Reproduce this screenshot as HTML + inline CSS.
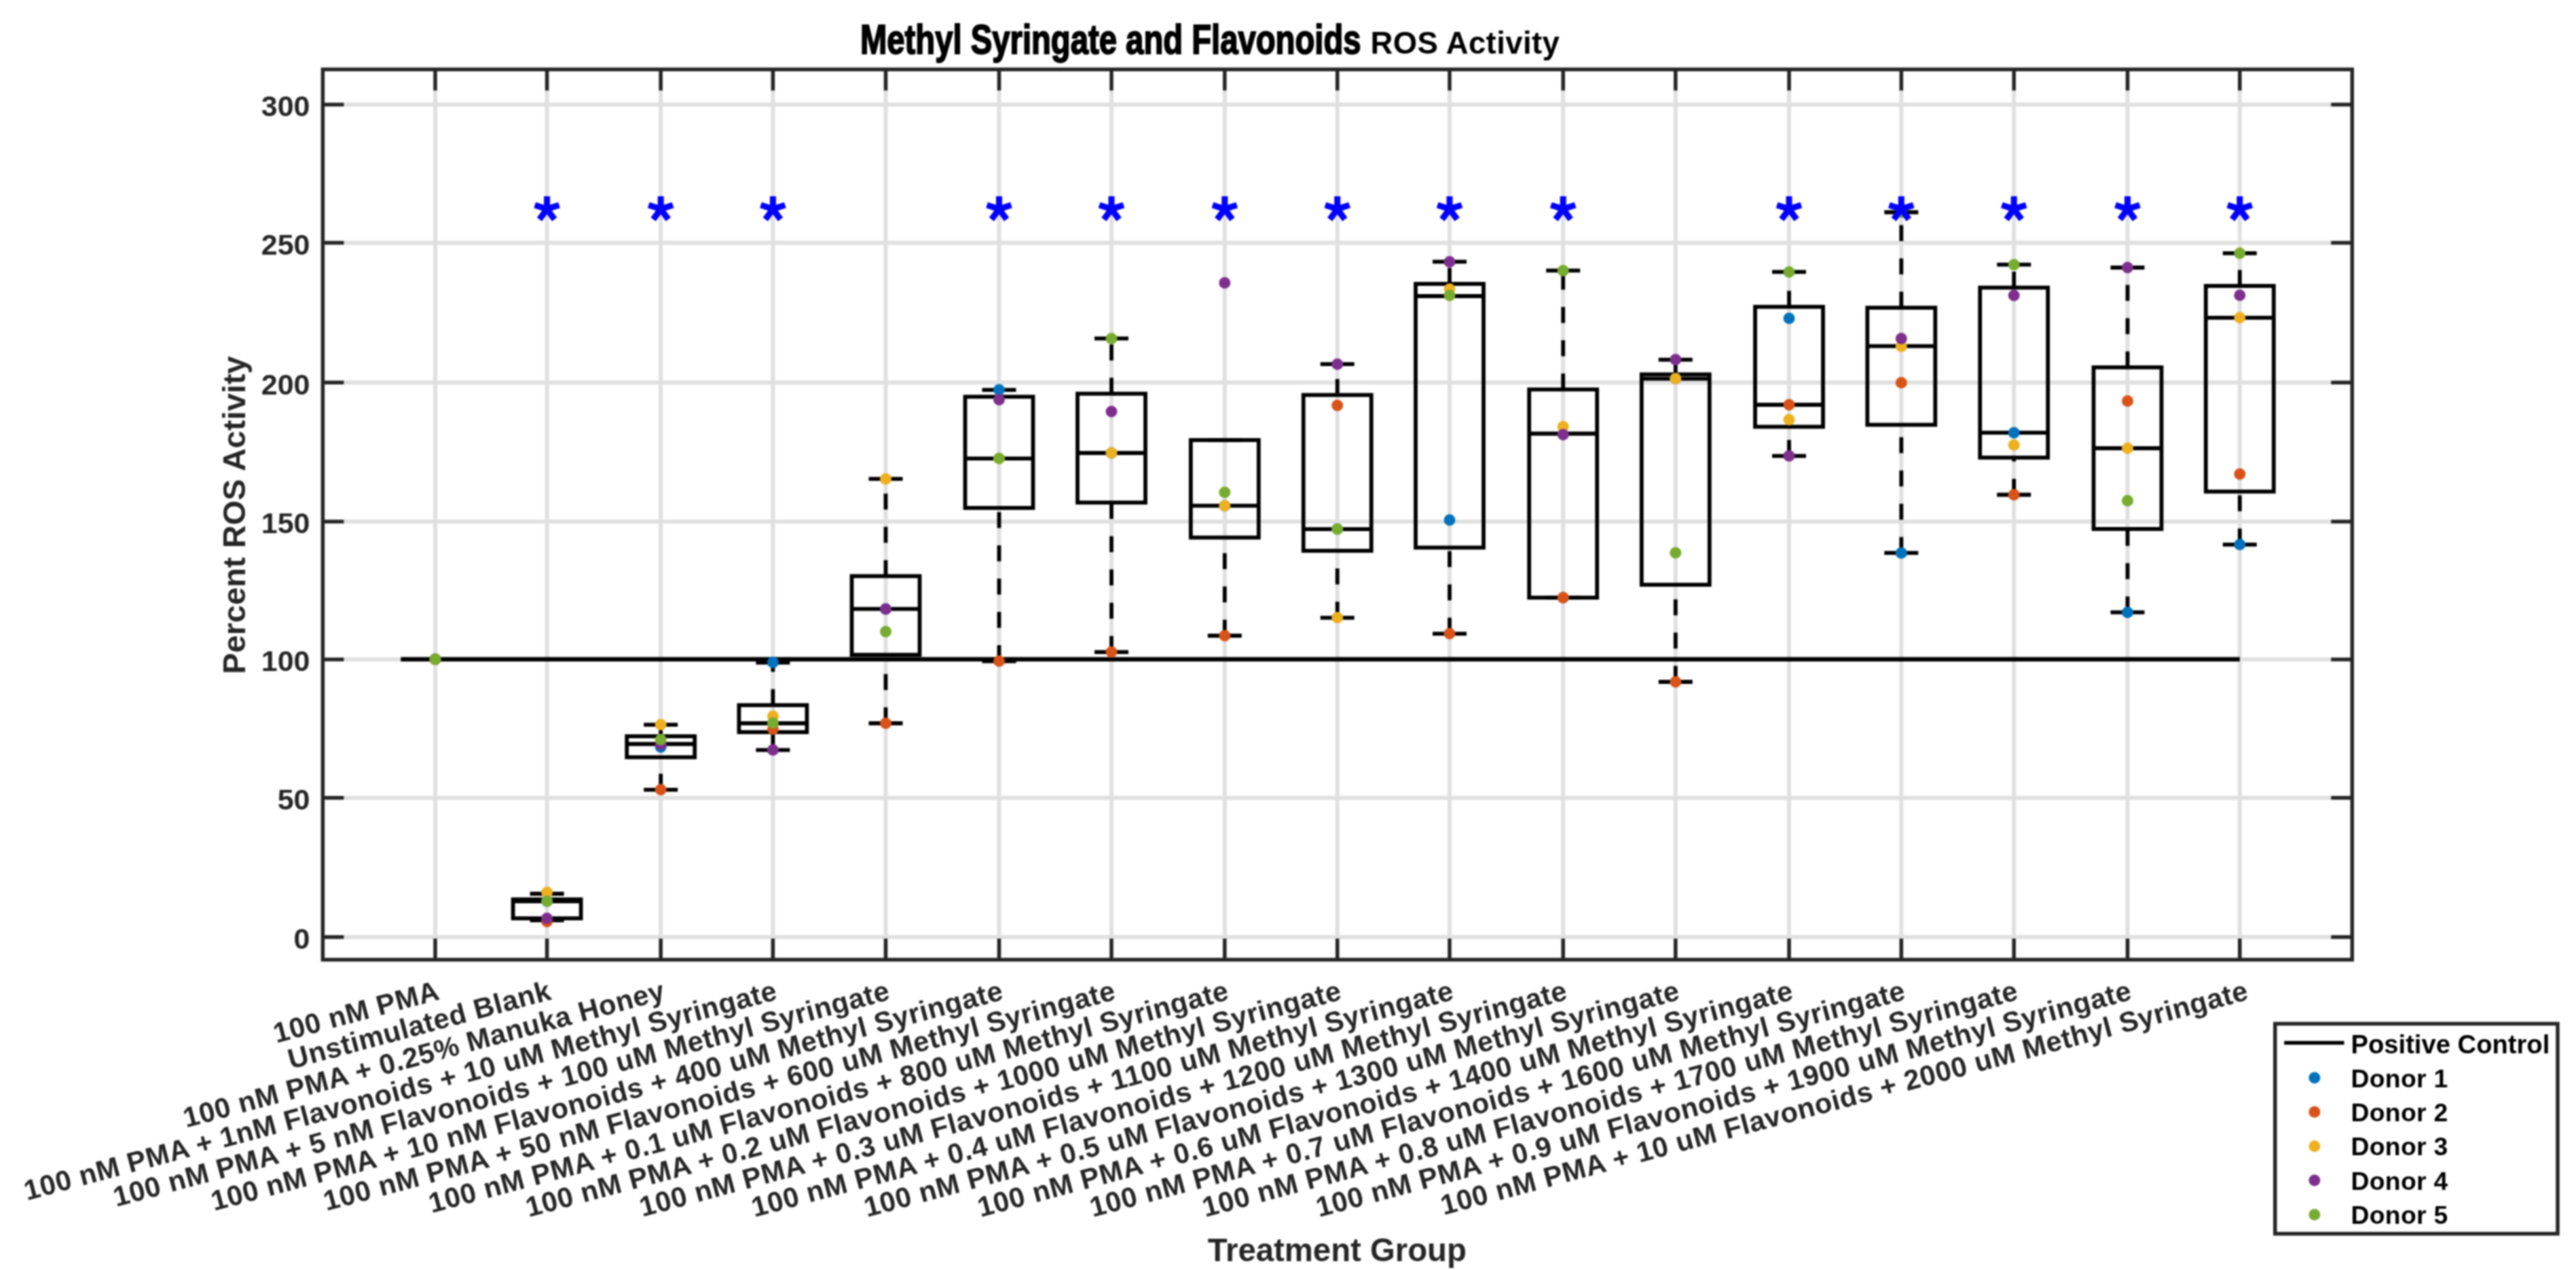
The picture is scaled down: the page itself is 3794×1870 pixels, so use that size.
<!DOCTYPE html><html><head><meta charset="utf-8"><style>html,body{margin:0;padding:0;background:#fff;width:3794px;height:1870px;overflow:hidden}svg{display:block;filter:blur(0.9px)}text{font-family:"Liberation Sans",sans-serif;font-weight:bold}</style></head><body>
<svg width="3794" height="1870" viewBox="0 0 3794 1870">
<rect width="3794" height="1870" fill="#fff"/>
<path d="M475.4 1379.8H3464.3M475.4 1174.8H3464.3M475.4 971.0H3464.3M475.4 768.0H3464.3M475.4 563.3H3464.3M475.4 357.5H3464.3M475.4 153.9H3464.3M641.0 102.2V1413.1M805.6 102.2V1413.1M973.2 102.2V1413.1M1138.4 102.2V1413.1M1304.5 102.2V1413.1M1471.5 102.2V1413.1M1637.0 102.2V1413.1M1803.8 102.2V1413.1M1969.7 102.2V1413.1M2135.0 102.2V1413.1M2302.2 102.2V1413.1M2467.8 102.2V1413.1M2635.0 102.2V1413.1M2800.3 102.2V1413.1M2966.2 102.2V1413.1M3133.5 102.2V1413.1M3298.8 102.2V1413.1" stroke="#e0e0e0" stroke-width="6" fill="none"/>
<path d="M475.4 1379.8h31M3464.3 1379.8h-31M475.4 1174.8h31M3464.3 1174.8h-31M475.4 971.0h31M3464.3 971.0h-31M475.4 768.0h31M3464.3 768.0h-31M475.4 563.3h31M3464.3 563.3h-31M475.4 357.5h31M3464.3 357.5h-31M475.4 153.9h31M3464.3 153.9h-31M641.0 1413.1v-31M641.0 102.2v31M805.6 1413.1v-31M805.6 102.2v31M973.2 1413.1v-31M973.2 102.2v31M1138.4 1413.1v-31M1138.4 102.2v31M1304.5 1413.1v-31M1304.5 102.2v31M1471.5 1413.1v-31M1471.5 102.2v31M1637.0 1413.1v-31M1637.0 102.2v31M1803.8 1413.1v-31M1803.8 102.2v31M1969.7 1413.1v-31M1969.7 102.2v31M2135.0 1413.1v-31M2135.0 102.2v31M2302.2 1413.1v-31M2302.2 102.2v31M2467.8 1413.1v-31M2467.8 102.2v31M2635.0 1413.1v-31M2635.0 102.2v31M2800.3 1413.1v-31M2800.3 102.2v31M2966.2 1413.1v-31M2966.2 102.2v31M3133.5 1413.1v-31M3133.5 102.2v31M3298.8 1413.1v-31M3298.8 102.2v31" stroke="#262626" stroke-width="5.5" fill="none"/>
<rect x="475.4" y="102.2" width="2988.9" height="1310.9" stroke="#262626" stroke-width="5.5" fill="none"/>
<text x="456.5" y="1397.1" font-size="43" fill="#262626" text-anchor="end">0</text>
<text x="456.5" y="1192.1" font-size="43" fill="#262626" text-anchor="end">50</text>
<text x="456.5" y="988.3" font-size="43" fill="#262626" text-anchor="end">100</text>
<text x="456.5" y="785.3" font-size="43" fill="#262626" text-anchor="end">150</text>
<text x="456.5" y="580.6" font-size="43" fill="#262626" text-anchor="end">200</text>
<text x="456.5" y="374.8" font-size="43" fill="#262626" text-anchor="end">250</text>
<text x="456.5" y="171.2" font-size="43" fill="#262626" text-anchor="end">300</text>
<path d="M590.3 970.8H3298.8" stroke="#000" stroke-width="6.5" fill="none"/>
<path d="M805.6 1324.3V1316.0" stroke="#000" stroke-width="5.8" stroke-dasharray="23.5 25.5" fill="none"/>
<path d="M805.6 1355.0V1352.2" stroke="#000" stroke-width="5.8" stroke-dasharray="23.5 25.5" fill="none"/>
<path d="M780.6 1316.0h50M780.6 1355.0h50M755.6 1327.0h100" stroke="#000" stroke-width="5.8" fill="none"/>
<rect x="755.6" y="1324.3" width="100" height="27.9" stroke="#000" stroke-width="5.8" fill="none"/>
<path d="M973.2 1084.1V1067.1" stroke="#000" stroke-width="5.8" stroke-dasharray="23.5 25.5" fill="none"/>
<path d="M973.2 1162.8V1115.0" stroke="#000" stroke-width="5.8" stroke-dasharray="23.5 25.5" fill="none"/>
<path d="M948.2 1067.1h50M948.2 1162.8h50M923.2 1095.5h100" stroke="#000" stroke-width="5.8" fill="none"/>
<rect x="923.2" y="1084.1" width="100" height="30.9" stroke="#000" stroke-width="5.8" fill="none"/>
<path d="M1138.4 1038.3V975.5" stroke="#000" stroke-width="5.8" stroke-dasharray="23.5 25.5" fill="none"/>
<path d="M1138.4 1104.3V1078.0" stroke="#000" stroke-width="5.8" stroke-dasharray="23.5 25.5" fill="none"/>
<path d="M1113.4 975.5h50M1113.4 1104.3h50M1088.4 1065.0h100" stroke="#000" stroke-width="5.8" fill="none"/>
<rect x="1088.4" y="1038.3" width="100" height="39.7" stroke="#000" stroke-width="5.8" fill="none"/>
<path d="M1304.5 848.3V705.2" stroke="#000" stroke-width="5.8" stroke-dasharray="23.5 25.5" fill="none"/>
<path d="M1304.5 1065.0V964.2" stroke="#000" stroke-width="5.8" stroke-dasharray="23.5 25.5" fill="none"/>
<path d="M1279.5 705.2h50M1279.5 1065.0h50M1254.5 896.7h100" stroke="#000" stroke-width="5.8" fill="none"/>
<rect x="1254.5" y="848.3" width="100" height="115.9" stroke="#000" stroke-width="5.8" fill="none"/>
<path d="M1471.5 584.2V574.2" stroke="#000" stroke-width="5.8" stroke-dasharray="23.5 25.5" fill="none"/>
<path d="M1471.5 973.5V747.9" stroke="#000" stroke-width="5.8" stroke-dasharray="23.5 25.5" fill="none"/>
<path d="M1446.5 574.2h50M1446.5 973.5h50M1421.5 675.1h100" stroke="#000" stroke-width="5.8" fill="none"/>
<rect x="1421.5" y="584.2" width="100" height="163.7" stroke="#000" stroke-width="5.8" fill="none"/>
<path d="M1637.0 579.7V498.4" stroke="#000" stroke-width="5.8" stroke-dasharray="23.5 25.5" fill="none"/>
<path d="M1637.0 960.1V740.0" stroke="#000" stroke-width="5.8" stroke-dasharray="23.5 25.5" fill="none"/>
<path d="M1612.0 498.4h50M1612.0 960.1h50M1587.0 667.0h100" stroke="#000" stroke-width="5.8" fill="none"/>
<rect x="1587.0" y="579.7" width="100" height="160.3" stroke="#000" stroke-width="5.8" fill="none"/>
<path d="M1803.8 936.0V791.5" stroke="#000" stroke-width="5.8" stroke-dasharray="23.5 25.5" fill="none"/>
<path d="M1778.8 648.0h50M1778.8 936.0h50M1753.8 744.7h100" stroke="#000" stroke-width="5.8" fill="none"/>
<rect x="1753.8" y="648.0" width="100" height="143.5" stroke="#000" stroke-width="5.8" fill="none"/>
<path d="M1969.7 581.6V536.2" stroke="#000" stroke-width="5.8" stroke-dasharray="23.5 25.5" fill="none"/>
<path d="M1969.7 909.6V811.0" stroke="#000" stroke-width="5.8" stroke-dasharray="23.5 25.5" fill="none"/>
<path d="M1944.7 536.2h50M1944.7 909.6h50M1919.7 779.1h100" stroke="#000" stroke-width="5.8" fill="none"/>
<rect x="1919.7" y="581.6" width="100" height="229.4" stroke="#000" stroke-width="5.8" fill="none"/>
<path d="M2135.0 418.0V385.4" stroke="#000" stroke-width="5.8" stroke-dasharray="23.5 25.5" fill="none"/>
<path d="M2135.0 933.1V806.3" stroke="#000" stroke-width="5.8" stroke-dasharray="23.5 25.5" fill="none"/>
<path d="M2110.0 385.4h50M2110.0 933.1h50M2085.0 436.0h100" stroke="#000" stroke-width="5.8" fill="none"/>
<rect x="2085.0" y="418.0" width="100" height="388.3" stroke="#000" stroke-width="5.8" fill="none"/>
<path d="M2302.2 573.5V398.4" stroke="#000" stroke-width="5.8" stroke-dasharray="23.5 25.5" fill="none"/>
<path d="M2277.2 398.4h50M2277.2 880.0h50M2252.2 638.5h100" stroke="#000" stroke-width="5.8" fill="none"/>
<rect x="2252.2" y="573.5" width="100" height="306.5" stroke="#000" stroke-width="5.8" fill="none"/>
<path d="M2467.8 551.3V529.6" stroke="#000" stroke-width="5.8" stroke-dasharray="23.5 25.5" fill="none"/>
<path d="M2467.8 1004.0V861.0" stroke="#000" stroke-width="5.8" stroke-dasharray="23.5 25.5" fill="none"/>
<path d="M2442.8 529.6h50M2442.8 1004.0h50M2417.8 557.7h100" stroke="#000" stroke-width="5.8" fill="none"/>
<rect x="2417.8" y="551.3" width="100" height="309.7" stroke="#000" stroke-width="5.8" fill="none"/>
<path d="M2635.0 451.8V400.4" stroke="#000" stroke-width="5.8" stroke-dasharray="23.5 25.5" fill="none"/>
<path d="M2635.0 671.3V628.4" stroke="#000" stroke-width="5.8" stroke-dasharray="23.5 25.5" fill="none"/>
<path d="M2610.0 400.4h50M2610.0 671.3h50M2585.0 596.0h100" stroke="#000" stroke-width="5.8" fill="none"/>
<rect x="2585.0" y="451.8" width="100" height="176.6" stroke="#000" stroke-width="5.8" fill="none"/>
<path d="M2800.3 453.1V312.5" stroke="#000" stroke-width="5.8" stroke-dasharray="23.5 25.5" fill="none"/>
<path d="M2800.3 814.2V625.5" stroke="#000" stroke-width="5.8" stroke-dasharray="23.5 25.5" fill="none"/>
<path d="M2775.3 312.5h50M2775.3 814.2h50M2750.3 509.7h100" stroke="#000" stroke-width="5.8" fill="none"/>
<rect x="2750.3" y="453.1" width="100" height="172.4" stroke="#000" stroke-width="5.8" fill="none"/>
<path d="M2966.2 423.5V389.7" stroke="#000" stroke-width="5.8" stroke-dasharray="23.5 25.5" fill="none"/>
<path d="M2966.2 728.5V673.8" stroke="#000" stroke-width="5.8" stroke-dasharray="23.5 25.5" fill="none"/>
<path d="M2941.2 389.7h50M2941.2 728.5h50M2916.2 637.2h100" stroke="#000" stroke-width="5.8" fill="none"/>
<rect x="2916.2" y="423.5" width="100" height="250.3" stroke="#000" stroke-width="5.8" fill="none"/>
<path d="M3133.5 540.9V394.0" stroke="#000" stroke-width="5.8" stroke-dasharray="23.5 25.5" fill="none"/>
<path d="M3133.5 901.7V778.9" stroke="#000" stroke-width="5.8" stroke-dasharray="23.5 25.5" fill="none"/>
<path d="M3108.5 394.0h50M3108.5 901.7h50M3083.5 660.0h100" stroke="#000" stroke-width="5.8" fill="none"/>
<rect x="3083.5" y="540.9" width="100" height="238.0" stroke="#000" stroke-width="5.8" fill="none"/>
<path d="M3298.8 421.0V372.9" stroke="#000" stroke-width="5.8" stroke-dasharray="23.5 25.5" fill="none"/>
<path d="M3298.8 801.8V723.8" stroke="#000" stroke-width="5.8" stroke-dasharray="23.5 25.5" fill="none"/>
<path d="M3273.8 372.9h50M3273.8 801.8h50M3248.8 467.8h100" stroke="#000" stroke-width="5.8" fill="none"/>
<rect x="3248.8" y="421.0" width="100" height="302.8" stroke="#000" stroke-width="5.8" fill="none"/>
<circle cx="641.0" cy="970.8" r="8.5" fill="#0072BD"/>
<circle cx="641.0" cy="970.8" r="8.5" fill="#D95319"/>
<circle cx="641.0" cy="970.8" r="8.5" fill="#EDB120"/>
<circle cx="641.0" cy="970.8" r="8.5" fill="#7E2F8E"/>
<circle cx="641.0" cy="970.8" r="8.5" fill="#77AC30"/>
<circle cx="805.6" cy="1327.0" r="8.5" fill="#0072BD"/>
<circle cx="805.6" cy="1357.0" r="8.5" fill="#D95319"/>
<circle cx="805.6" cy="1314.0" r="8.5" fill="#EDB120"/>
<circle cx="805.6" cy="1352.2" r="8.5" fill="#7E2F8E"/>
<circle cx="805.6" cy="1327.0" r="8.5" fill="#77AC30"/>
<circle cx="973.2" cy="1100.0" r="8.5" fill="#0072BD"/>
<circle cx="973.2" cy="1162.8" r="8.5" fill="#D95319"/>
<circle cx="973.2" cy="1067.1" r="8.5" fill="#EDB120"/>
<circle cx="973.2" cy="1096.0" r="8.5" fill="#7E2F8E"/>
<circle cx="973.2" cy="1089.1" r="8.5" fill="#77AC30"/>
<circle cx="1138.4" cy="975.3" r="8.5" fill="#0072BD"/>
<circle cx="1138.4" cy="1073.5" r="8.5" fill="#D95319"/>
<circle cx="1138.4" cy="1054.6" r="8.5" fill="#EDB120"/>
<circle cx="1138.4" cy="1104.3" r="8.5" fill="#7E2F8E"/>
<circle cx="1138.4" cy="1064.5" r="8.5" fill="#77AC30"/>
<circle cx="1304.5" cy="896.7" r="8.5" fill="#0072BD"/>
<circle cx="1304.5" cy="1065.0" r="8.5" fill="#D95319"/>
<circle cx="1304.5" cy="705.2" r="8.5" fill="#EDB120"/>
<circle cx="1304.5" cy="896.7" r="8.5" fill="#7E2F8E"/>
<circle cx="1304.5" cy="930.0" r="8.5" fill="#77AC30"/>
<circle cx="1471.5" cy="574.0" r="8.5" fill="#0072BD"/>
<circle cx="1471.5" cy="973.5" r="8.5" fill="#D95319"/>
<circle cx="1471.5" cy="675.1" r="8.5" fill="#EDB120"/>
<circle cx="1471.5" cy="588.5" r="8.5" fill="#7E2F8E"/>
<circle cx="1471.5" cy="675.1" r="8.5" fill="#77AC30"/>
<circle cx="1637.0" cy="667.0" r="8.5" fill="#0072BD"/>
<circle cx="1637.0" cy="960.1" r="8.5" fill="#D95319"/>
<circle cx="1637.0" cy="667.0" r="8.5" fill="#EDB120"/>
<circle cx="1637.0" cy="606.0" r="8.5" fill="#7E2F8E"/>
<circle cx="1637.0" cy="498.4" r="8.5" fill="#77AC30"/>
<circle cx="1803.8" cy="744.7" r="8.5" fill="#0072BD"/>
<circle cx="1803.8" cy="936.0" r="8.5" fill="#D95319"/>
<circle cx="1803.8" cy="744.7" r="8.5" fill="#EDB120"/>
<circle cx="1803.8" cy="416.4" r="8.5" fill="#7E2F8E"/>
<circle cx="1803.8" cy="725.0" r="8.5" fill="#77AC30"/>
<circle cx="1969.7" cy="779.0" r="8.5" fill="#0072BD"/>
<circle cx="1969.7" cy="597.1" r="8.5" fill="#D95319"/>
<circle cx="1969.7" cy="909.6" r="8.5" fill="#EDB120"/>
<circle cx="1969.7" cy="536.2" r="8.5" fill="#7E2F8E"/>
<circle cx="1969.7" cy="779.1" r="8.5" fill="#77AC30"/>
<circle cx="2135.0" cy="765.7" r="8.5" fill="#0072BD"/>
<circle cx="2135.0" cy="933.1" r="8.5" fill="#D95319"/>
<circle cx="2135.0" cy="425.8" r="8.5" fill="#EDB120"/>
<circle cx="2135.0" cy="385.4" r="8.5" fill="#7E2F8E"/>
<circle cx="2135.0" cy="435.0" r="8.5" fill="#77AC30"/>
<circle cx="2302.2" cy="880.0" r="8.5" fill="#0072BD"/>
<circle cx="2302.2" cy="880.0" r="8.5" fill="#D95319"/>
<circle cx="2302.2" cy="628.3" r="8.5" fill="#EDB120"/>
<circle cx="2302.2" cy="640.0" r="8.5" fill="#7E2F8E"/>
<circle cx="2302.2" cy="398.4" r="8.5" fill="#77AC30"/>
<circle cx="2467.8" cy="557.5" r="8.5" fill="#0072BD"/>
<circle cx="2467.8" cy="1004.0" r="8.5" fill="#D95319"/>
<circle cx="2467.8" cy="557.5" r="8.5" fill="#EDB120"/>
<circle cx="2467.8" cy="529.6" r="8.5" fill="#7E2F8E"/>
<circle cx="2467.8" cy="813.9" r="8.5" fill="#77AC30"/>
<circle cx="2635.0" cy="468.7" r="8.5" fill="#0072BD"/>
<circle cx="2635.0" cy="596.0" r="8.5" fill="#D95319"/>
<circle cx="2635.0" cy="618.0" r="8.5" fill="#EDB120"/>
<circle cx="2635.0" cy="671.3" r="8.5" fill="#7E2F8E"/>
<circle cx="2635.0" cy="400.4" r="8.5" fill="#77AC30"/>
<circle cx="2800.3" cy="814.2" r="8.5" fill="#0072BD"/>
<circle cx="2800.3" cy="563.5" r="8.5" fill="#D95319"/>
<circle cx="2800.3" cy="510.0" r="8.5" fill="#EDB120"/>
<circle cx="2800.3" cy="498.6" r="8.5" fill="#7E2F8E"/>
<circle cx="2800.3" cy="312.5" r="8.5" fill="#77AC30"/>
<circle cx="2966.2" cy="637.2" r="8.5" fill="#0072BD"/>
<circle cx="2966.2" cy="728.5" r="8.5" fill="#D95319"/>
<circle cx="2966.2" cy="655.2" r="8.5" fill="#EDB120"/>
<circle cx="2966.2" cy="435.1" r="8.5" fill="#7E2F8E"/>
<circle cx="2966.2" cy="389.7" r="8.5" fill="#77AC30"/>
<circle cx="3133.5" cy="901.7" r="8.5" fill="#0072BD"/>
<circle cx="3133.5" cy="590.5" r="8.5" fill="#D95319"/>
<circle cx="3133.5" cy="660.0" r="8.5" fill="#EDB120"/>
<circle cx="3133.5" cy="394.0" r="8.5" fill="#7E2F8E"/>
<circle cx="3133.5" cy="737.3" r="8.5" fill="#77AC30"/>
<circle cx="3298.8" cy="801.8" r="8.5" fill="#0072BD"/>
<circle cx="3298.8" cy="697.9" r="8.5" fill="#D95319"/>
<circle cx="3298.8" cy="467.8" r="8.5" fill="#EDB120"/>
<circle cx="3298.8" cy="434.7" r="8.5" fill="#7E2F8E"/>
<circle cx="3298.8" cy="372.9" r="8.5" fill="#77AC30"/>
<path d="M805.6 307.8L805.6 289.0M805.6 307.8L823.5 302.0M805.6 307.8L816.7 323.0M805.6 307.8L794.5 323.0M805.6 307.8L787.7 302.0" stroke="#0000ff" stroke-width="9" stroke-linecap="butt" fill="none"/>
<path d="M973.2 307.8L973.2 289.0M973.2 307.8L991.1 302.0M973.2 307.8L984.3 323.0M973.2 307.8L962.1 323.0M973.2 307.8L955.3 302.0" stroke="#0000ff" stroke-width="9" stroke-linecap="butt" fill="none"/>
<path d="M1138.4 307.8L1138.4 289.0M1138.4 307.8L1156.3 302.0M1138.4 307.8L1149.5 323.0M1138.4 307.8L1127.3 323.0M1138.4 307.8L1120.5 302.0" stroke="#0000ff" stroke-width="9" stroke-linecap="butt" fill="none"/>
<path d="M1471.5 307.8L1471.5 289.0M1471.5 307.8L1489.4 302.0M1471.5 307.8L1482.6 323.0M1471.5 307.8L1460.4 323.0M1471.5 307.8L1453.6 302.0" stroke="#0000ff" stroke-width="9" stroke-linecap="butt" fill="none"/>
<path d="M1637.0 307.8L1637.0 289.0M1637.0 307.8L1654.9 302.0M1637.0 307.8L1648.1 323.0M1637.0 307.8L1625.9 323.0M1637.0 307.8L1619.1 302.0" stroke="#0000ff" stroke-width="9" stroke-linecap="butt" fill="none"/>
<path d="M1803.8 307.8L1803.8 289.0M1803.8 307.8L1821.7 302.0M1803.8 307.8L1814.9 323.0M1803.8 307.8L1792.7 323.0M1803.8 307.8L1785.9 302.0" stroke="#0000ff" stroke-width="9" stroke-linecap="butt" fill="none"/>
<path d="M1969.7 307.8L1969.7 289.0M1969.7 307.8L1987.6 302.0M1969.7 307.8L1980.8 323.0M1969.7 307.8L1958.6 323.0M1969.7 307.8L1951.8 302.0" stroke="#0000ff" stroke-width="9" stroke-linecap="butt" fill="none"/>
<path d="M2135.0 307.8L2135.0 289.0M2135.0 307.8L2152.9 302.0M2135.0 307.8L2146.1 323.0M2135.0 307.8L2123.9 323.0M2135.0 307.8L2117.1 302.0" stroke="#0000ff" stroke-width="9" stroke-linecap="butt" fill="none"/>
<path d="M2302.2 307.8L2302.2 289.0M2302.2 307.8L2320.1 302.0M2302.2 307.8L2313.3 323.0M2302.2 307.8L2291.1 323.0M2302.2 307.8L2284.3 302.0" stroke="#0000ff" stroke-width="9" stroke-linecap="butt" fill="none"/>
<path d="M2635.0 307.8L2635.0 289.0M2635.0 307.8L2652.9 302.0M2635.0 307.8L2646.1 323.0M2635.0 307.8L2623.9 323.0M2635.0 307.8L2617.1 302.0" stroke="#0000ff" stroke-width="9" stroke-linecap="butt" fill="none"/>
<path d="M2800.3 307.8L2800.3 289.0M2800.3 307.8L2818.2 302.0M2800.3 307.8L2811.4 323.0M2800.3 307.8L2789.2 323.0M2800.3 307.8L2782.4 302.0" stroke="#0000ff" stroke-width="9" stroke-linecap="butt" fill="none"/>
<path d="M2966.2 307.8L2966.2 289.0M2966.2 307.8L2984.1 302.0M2966.2 307.8L2977.3 323.0M2966.2 307.8L2955.1 323.0M2966.2 307.8L2948.3 302.0" stroke="#0000ff" stroke-width="9" stroke-linecap="butt" fill="none"/>
<path d="M3133.5 307.8L3133.5 289.0M3133.5 307.8L3151.4 302.0M3133.5 307.8L3144.6 323.0M3133.5 307.8L3122.4 323.0M3133.5 307.8L3115.6 302.0" stroke="#0000ff" stroke-width="9" stroke-linecap="butt" fill="none"/>
<path d="M3298.8 307.8L3298.8 289.0M3298.8 307.8L3316.7 302.0M3298.8 307.8L3309.9 323.0M3298.8 307.8L3287.7 323.0M3298.8 307.8L3280.9 302.0" stroke="#0000ff" stroke-width="9" stroke-linecap="butt" fill="none"/>
<text x="649.5" y="1471" font-size="41.5" fill="#262626" letter-spacing="0.65" text-anchor="end" transform="rotate(-15 649.5 1471)">100 nM PMA</text>
<text x="814.1" y="1471" font-size="41.5" fill="#262626" letter-spacing="0.65" text-anchor="end" transform="rotate(-15 814.1 1471)">Unstimulated Blank</text>
<text x="981.7" y="1471" font-size="41.5" fill="#262626" letter-spacing="0.65" text-anchor="end" transform="rotate(-15 981.7 1471)">100 nM PMA + 0.25% Manuka Honey</text>
<text x="1146.9" y="1471" font-size="41.5" fill="#262626" letter-spacing="0.65" text-anchor="end" transform="rotate(-15 1146.9 1471)">100 nM PMA + 1nM Flavonoids + 10 uM Methyl Syringate</text>
<text x="1313.0" y="1471" font-size="41.5" fill="#262626" letter-spacing="0.65" text-anchor="end" transform="rotate(-15 1313.0 1471)">100 nM PMA + 5 nM Flavonoids + 100 uM Methyl Syringate</text>
<text x="1480.0" y="1471" font-size="41.5" fill="#262626" letter-spacing="0.65" text-anchor="end" transform="rotate(-15 1480.0 1471)">100 nM PMA + 10 nM Flavonoids + 400 uM Methyl Syringate</text>
<text x="1645.5" y="1471" font-size="41.5" fill="#262626" letter-spacing="0.65" text-anchor="end" transform="rotate(-15 1645.5 1471)">100 nM PMA + 50 nM Flavonoids + 600 uM Methyl Syringate</text>
<text x="1812.3" y="1471" font-size="41.5" fill="#262626" letter-spacing="0.65" text-anchor="end" transform="rotate(-15 1812.3 1471)">100 nM PMA + 0.1 uM Flavonoids + 800 uM Methyl Syringate</text>
<text x="1978.2" y="1471" font-size="41.5" fill="#262626" letter-spacing="0.65" text-anchor="end" transform="rotate(-15 1978.2 1471)">100 nM PMA + 0.2 uM Flavonoids + 1000 uM Methyl Syringate</text>
<text x="2143.5" y="1471" font-size="41.5" fill="#262626" letter-spacing="0.65" text-anchor="end" transform="rotate(-15 2143.5 1471)">100 nM PMA + 0.3 uM Flavonoids + 1100 uM Methyl Syringate</text>
<text x="2310.7" y="1471" font-size="41.5" fill="#262626" letter-spacing="0.65" text-anchor="end" transform="rotate(-15 2310.7 1471)">100 nM PMA + 0.4 uM Flavonoids + 1200 uM Methyl Syringate</text>
<text x="2476.3" y="1471" font-size="41.5" fill="#262626" letter-spacing="0.65" text-anchor="end" transform="rotate(-15 2476.3 1471)">100 nM PMA + 0.5 uM Flavonoids + 1300 uM Methyl Syringate</text>
<text x="2643.5" y="1471" font-size="41.5" fill="#262626" letter-spacing="0.65" text-anchor="end" transform="rotate(-15 2643.5 1471)">100 nM PMA + 0.6 uM Flavonoids + 1400 uM Methyl Syringate</text>
<text x="2808.8" y="1471" font-size="41.5" fill="#262626" letter-spacing="0.65" text-anchor="end" transform="rotate(-15 2808.8 1471)">100 nM PMA + 0.7 uM Flavonoids + 1600 uM Methyl Syringate</text>
<text x="2974.7" y="1471" font-size="41.5" fill="#262626" letter-spacing="0.65" text-anchor="end" transform="rotate(-15 2974.7 1471)">100 nM PMA + 0.8 uM Flavonoids + 1700 uM Methyl Syringate</text>
<text x="3142.0" y="1471" font-size="41.5" fill="#262626" letter-spacing="0.65" text-anchor="end" transform="rotate(-15 3142.0 1471)">100 nM PMA + 0.9 uM Flavonoids + 1900 uM Methyl Syringate</text>
<text x="3313.8" y="1471" font-size="41.5" fill="#262626" letter-spacing="0.65" text-anchor="end" transform="rotate(-15 3313.8 1471)">100 nM PMA + 10 uM Flavonoids + 2000 uM Methyl Syringate</text>
<text x="1969.3" y="1857.3" font-size="47.3" fill="#262626" text-anchor="middle">Treatment Group</text>
<text x="360.7" y="758.5" font-size="47" fill="#262626" text-anchor="middle" transform="rotate(-90 360.7 758.5)">Percent ROS Activity</text>
<text x="0" y="0" font-size="60.5" fill="#000" stroke="#000" stroke-width="2" transform="translate(1267 79.3) scale(0.781 1)">Methyl Syringate and Flavonoids</text>
<text x="2018.5" y="78.7" font-size="45.5" letter-spacing="0.4" fill="#000">ROS Activity</text>
<rect x="3350.8" y="1507.4" width="416.2" height="309.2" fill="#fff" stroke="#262626" stroke-width="5.5"/>
<path d="M3364.2 1535.5H3452.5" stroke="#000" stroke-width="5.5"/>
<text x="3462.5" y="1551" font-size="38.2" fill="#000">Positive Control</text>
<circle cx="3408.9" cy="1586.9" r="8.5" fill="#0072BD"/>
<text x="3462.5" y="1600.5" font-size="37.3" letter-spacing="0.3" fill="#000">Donor 1</text>
<circle cx="3408.9" cy="1637.3" r="8.5" fill="#D95319"/>
<text x="3462.5" y="1650.9" font-size="37.3" letter-spacing="0.3" fill="#000">Donor 2</text>
<circle cx="3408.9" cy="1687.7" r="8.5" fill="#EDB120"/>
<text x="3462.5" y="1701.3" font-size="37.3" letter-spacing="0.3" fill="#000">Donor 3</text>
<circle cx="3408.9" cy="1738.1" r="8.5" fill="#7E2F8E"/>
<text x="3462.5" y="1751.7" font-size="37.3" letter-spacing="0.3" fill="#000">Donor 4</text>
<circle cx="3408.9" cy="1788.5" r="8.5" fill="#77AC30"/>
<text x="3462.5" y="1802.1" font-size="37.3" letter-spacing="0.3" fill="#000">Donor 5</text>
</svg></body></html>
